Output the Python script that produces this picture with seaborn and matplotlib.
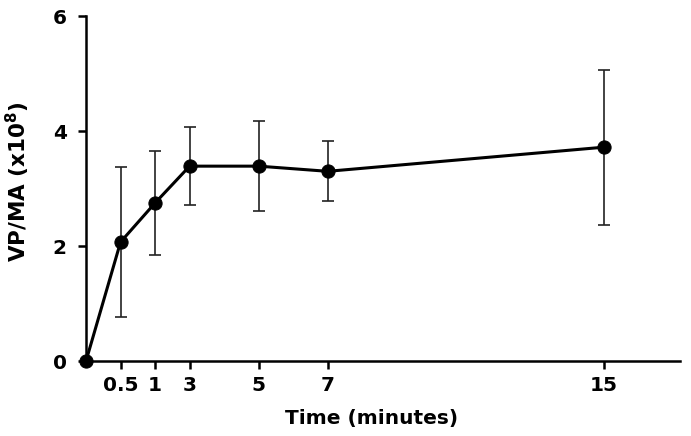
import numpy as np
import matplotlib
matplotlib.use("Agg")
import matplotlib.pyplot as plt
import seaborn as sns

# data
time_min = [0, 0.5, 1, 3, 5, 7, 15]
vp_ma = [0.0, 2.07, 2.75, 3.39, 3.39, 3.30, 3.72]
err = [0.0, 1.30, 0.90, 0.68, 0.78, 0.52, 1.35]
xticks = [0.5, 1, 3, 5, 7, 15]
yticks = [0, 2, 4, 6]

sns.set_style("ticks")
plt.rcParams['font.family'] = ['DejaVu Sans']
plt.rcParams['mathtext.fontset'] = 'custom'
plt.rcParams['mathtext.rm'] = 'DejaVu Sans:bold'
plt.rcParams['mathtext.bf'] = 'DejaVu Sans:bold'
plt.rcParams['text.color'] = 'black'
plt.rcParams['axes.labelcolor'] = 'black'
plt.rcParams['xtick.color'] = 'black'
plt.rcParams['ytick.color'] = 'black'


# early time points get equal spacing, linear from 3 min on
def fwd(t):
    t = np.asarray(t, dtype=float)
    return np.where(t < 3, np.interp(t, [0, 0.5, 1, 3], [0, 1, 2, 3]), t)


def inv(p):
    p = np.asarray(p, dtype=float)
    return np.where(p < 3, np.interp(p, [0, 1, 2, 3], [0, 0.5, 1, 3]), p)


fig = plt.figure(figsize=(6.91, 4.36), dpi=100)
ax = fig.add_axes([0.1245, 0.172, 0.8595, 0.791])
ax.set_xscale('function', functions=(fwd, inv))

ax.errorbar(time_min, vp_ma, yerr=err, fmt='none', ecolor='#222222',
            elinewidth=1.2, capsize=4.5, capthick=1.2, clip_on=False, zorder=2)
sns.lineplot(x=time_min, y=vp_ma, ax=ax, color='black', linewidth=2.2,
             marker='o', markersize=9.5, markeredgecolor='black',
             clip_on=False, zorder=3)

ax.set_xlim(0, 17.2)
ax.set_ylim(0, 6)
ax.set_xticks(xticks)
ax.set_xticklabels([str(t) for t in xticks])
ax.set_yticks(yticks)
ax.xaxis.set_minor_locator(matplotlib.ticker.NullLocator())

for lbl in ax.get_xticklabels() + ax.get_yticklabels():
    lbl.set_fontweight('bold')
    lbl.set_fontsize(14.5)
    lbl.set_color('black')
ax.tick_params(axis='both', direction='out', length=5.8, width=1.8,
               color='black', labelcolor='black')
ax.tick_params(axis='x', pad=5)
ax.tick_params(axis='y', pad=8)

sns.despine(ax=ax)
for s in ['left', 'bottom']:
    ax.spines[s].set_linewidth(1.8)
    ax.spines[s].set_color('black')

ax.set_xlabel('Time (minutes)', fontsize=14.5, fontweight='bold', color='black')
ax.set_ylabel(r'VP/MA (x10$^{8}$)', fontsize=15.5, fontweight='bold', color='black')
ax.xaxis.set_label_coords(0.48, -0.139)
ax.yaxis.set_label_coords(-0.091, 0.519)

fig.savefig('out.png', dpi=100)
